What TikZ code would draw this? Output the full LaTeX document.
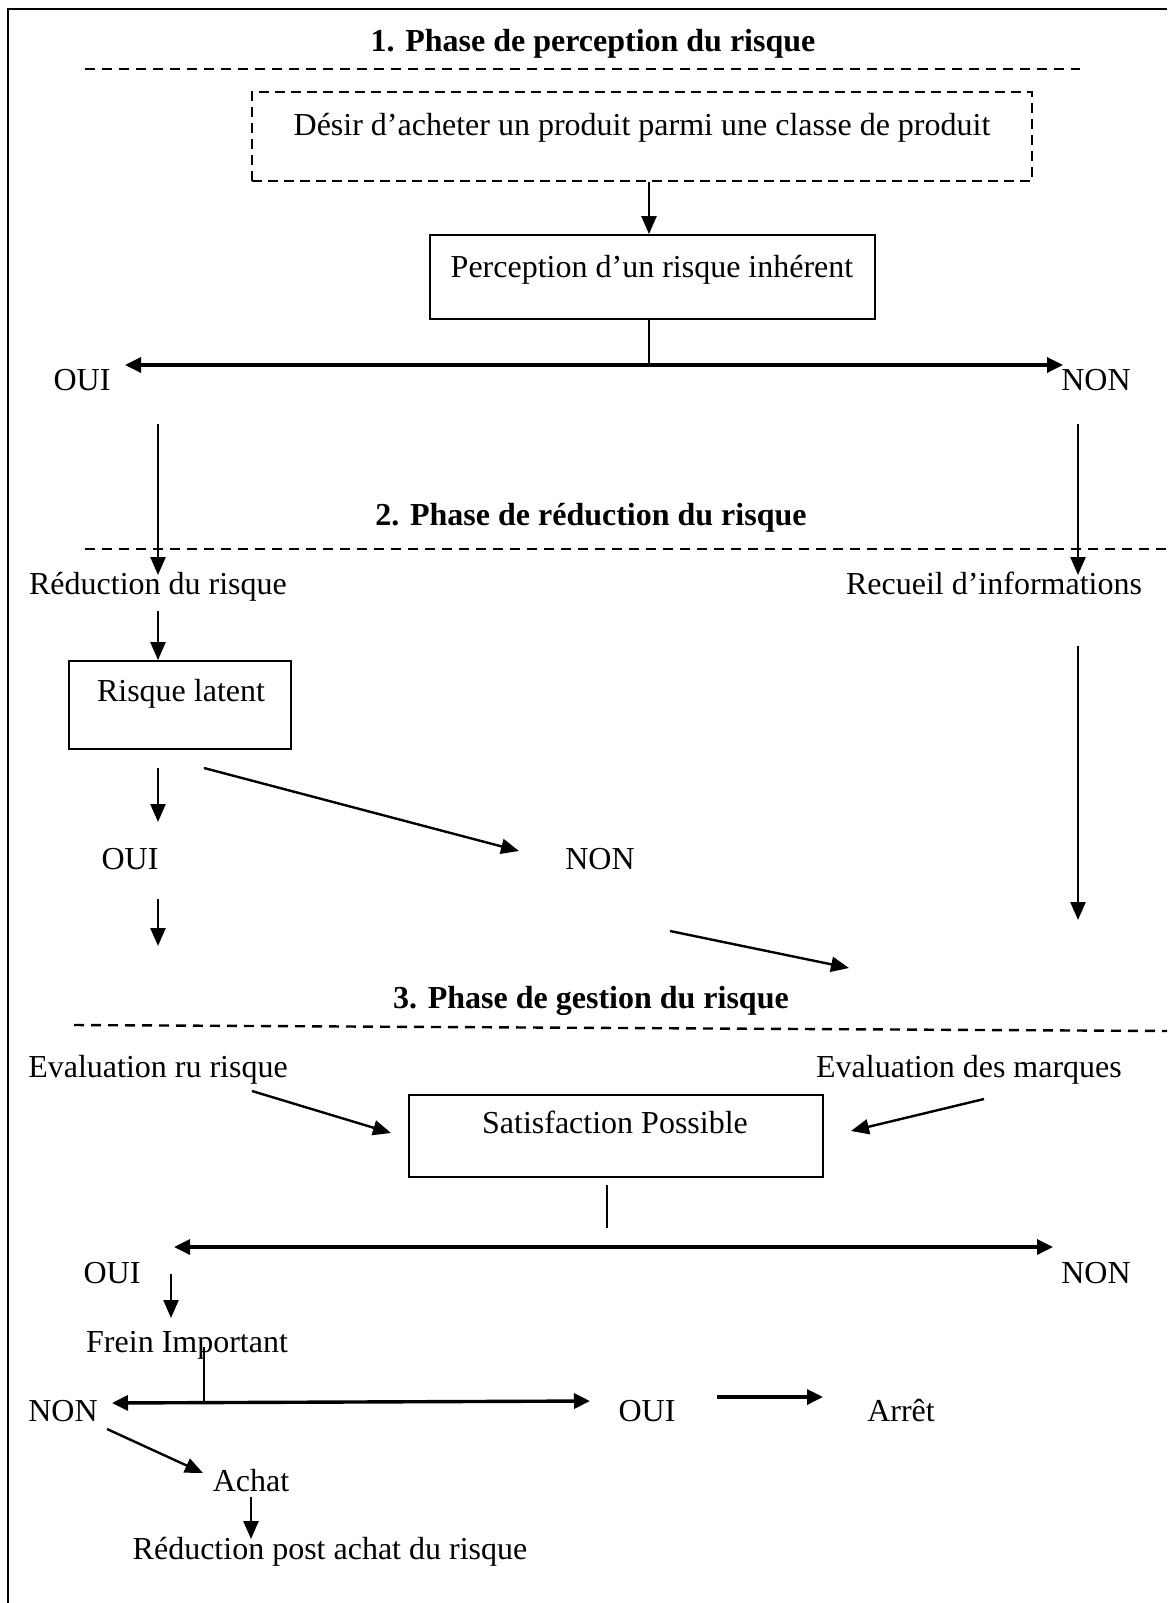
\documentclass[tikz,border=0pt]{standalone}
\usepackage{fontspec}
\setmainfont{Liberation Serif}
\usetikzlibrary{arrows.meta}
\begin{document}
\begin{tikzpicture}[x=1pt,y=-1pt,
  lbl/.style={font=\fontsize{32}{38}\selectfont, inner sep=0pt, text height=27pt, text depth=5pt},
  ttl/.style={font=\fontsize{32}{38}\selectfont\bfseries, inner sep=0pt, text height=27pt, text depth=5pt},
  box/.style={draw, line width=1.8pt, inner sep=0pt},
  dbox/.style={draw, line width=2.4pt, inner sep=0pt, dash pattern=on 10pt off 6pt},
  conn/.style={line width=1.6pt},
  arr/.style={line width=2.4pt, -{Triangle[length=18pt,width=15pt]}},
  darr/.style={line width=3.4pt, {Triangle[length=16pt,width=15pt]}-{Triangle[length=16pt,width=15pt]}},
  harr/.style={line width=3.4pt, -{Triangle[length=16pt,width=15pt]}},
  sep/.style={line width=2.4pt, dash pattern=on 10pt off 7pt}]
\useasboundingbox (0,0) rectangle (1167,1603);
% frame (top and left sides)
\draw[line width=2.2pt] (8,1603) -- (8,9) -- (1167,9);

% ---------- Phase 1 ----------
\node[ttl] (t1) at (593,41) {1. Phase de perception du risque};
\coordinate (s1a) at (85,69); \coordinate (s1b) at (1080,69);
\draw[sep] (s1a) -- (s1b);

\node[dbox, minimum width=780pt, minimum height=89pt] (desir) at (642,136.5) {};
\node[lbl] (desirT) at (642,124) {Désir d’acheter un produit parmi une classe de produit};

\node[box, minimum width=445pt, minimum height=84pt] (perc) at (652.5,277) {};
\node[lbl] (percT) at (652,266) {Perception d’un risque inhérent};

\draw[arr] (desir.south -| 649,0) -- (perc.north -| 649,0);

\coordinate (j1) at (649,365);
\draw[conn] (perc.south -| 649,0) -- (j1);
\coordinate (d1l) at (125,365); \coordinate (d1r) at (1063,365);
\draw[darr] (d1l) -- (d1r);
\node[lbl] (oui1) at (82,379) {OUI};
\node[lbl] (non1) at (1096,379) {NON};

% ---------- Phase 2 ----------
\node[ttl] (t2) at (591,514) {2. Phase de réduction du risque};
\coordinate (s2a) at (85,549); \coordinate (s2b) at (1167,549);
\draw[sep] (s2a) -- (s2b);

\node[lbl] (red) at (158,583) {Réduction du risque};
\node[lbl] (rec) at (994,583) {Recueil d’informations};
\coordinate (a1s) at (158,424); \coordinate (a1e) at (158,575);
\draw[arr] (a1s) -- (a1e);
\coordinate (a2s) at (1078,424); \coordinate (a2e) at (1078,575);
\draw[arr] (a2s) -- (a2e);

\node[box, minimum width=222pt, minimum height=88pt] (latent) at (180,705) {};
\node[lbl] (latentT) at (181,690) {Risque latent};
\coordinate (a3s) at (158,611);
\draw[arr] (a3s) -- (latent.north -| 158,0);

\coordinate (a4s) at (1078,646); \coordinate (a4e) at (1078,920);
\draw[arr] (a4s) -- (a4e);

\coordinate (a5s) at (158,768); \coordinate (a5e) at (158,822);
\draw[arr] (a5s) -- (a5e);
\coordinate (a6s) at (204,768); \coordinate (a6e) at (519,851);
\draw[arr] (a6s) -- (a6e);
\node[lbl] (oui2) at (130,858) {OUI};
\node[lbl] (non2) at (600,858) {NON};
\coordinate (a7s) at (158,899); \coordinate (a7e) at (158,946);
\draw[arr] (a7s) -- (a7e);
\coordinate (a8s) at (670,931); \coordinate (a8e) at (849,968);
\draw[arr] (a8s) -- (a8e);

% ---------- Phase 3 ----------
\node[ttl] (t3) at (591,997) {3. Phase de gestion du risque};
\coordinate (s3a) at (74,1025); \coordinate (s3b) at (1167,1031);
\draw[sep] (s3a) -- (s3b);

\node[lbl] (evr) at (158,1066) {Evaluation ru risque};
\node[lbl] (evm) at (969,1066) {Evaluation des marques};

\node[box, minimum width=414pt, minimum height=82pt] (sat) at (616,1136) {};
\node[lbl] (satT) at (615,1122) {Satisfaction Possible};

\coordinate (a9s) at (252,1091); \coordinate (a9e) at (391,1133);
\draw[arr] (a9s) -- (a9e);
\coordinate (a10s) at (984,1099); \coordinate (a10e) at (851,1131);
\draw[arr] (a10s) -- (a10e);

\coordinate (j2s) at (607,1185); \coordinate (j2e) at (607,1228);
\draw[conn] (j2s) -- (j2e);
\coordinate (d2l) at (174,1247); \coordinate (d2r) at (1053,1247);
\draw[darr] (d2l) -- (d2r);
\node[lbl] (oui3) at (112,1272) {OUI};
\node[lbl] (non3) at (1096,1272) {NON};

\coordinate (a11s) at (171,1274); \coordinate (a11e) at (171,1318);
\node[lbl, anchor=west] (frein) at (86,1341) {Frein Important};
\draw[arr] (a11s) -- (a11e);

\coordinate (j3s) at (204,1347); \coordinate (j3e) at (204,1402);
\draw[conn] (j3s) -- (j3e);
\coordinate (d3l) at (112,1403); \coordinate (d3r) at (590,1401);
\draw[darr] (d3l) -- (d3r);
\node[lbl] (non4) at (63,1410) {NON};
\node[lbl] (oui4) at (647,1410) {OUI};
\node[lbl] (arret) at (901,1410) {Arrêt};
\coordinate (a12s) at (717,1397); \coordinate (a12e) at (823,1397);
\draw[harr] (a12s) -- (a12e);

\node[lbl] (achat) at (251,1480) {Achat};
\coordinate (a13s) at (107,1429); \coordinate (a13e) at (203,1473);
\draw[arr] (a13s) -- (a13e);

\node[lbl] (rpa) at (330,1548) {Réduction post achat du risque};
\coordinate (a14s) at (251,1497); \coordinate (a14e) at (251,1539);
\draw[arr] (a14s) -- (a14e);
\end{tikzpicture}
\end{document}
